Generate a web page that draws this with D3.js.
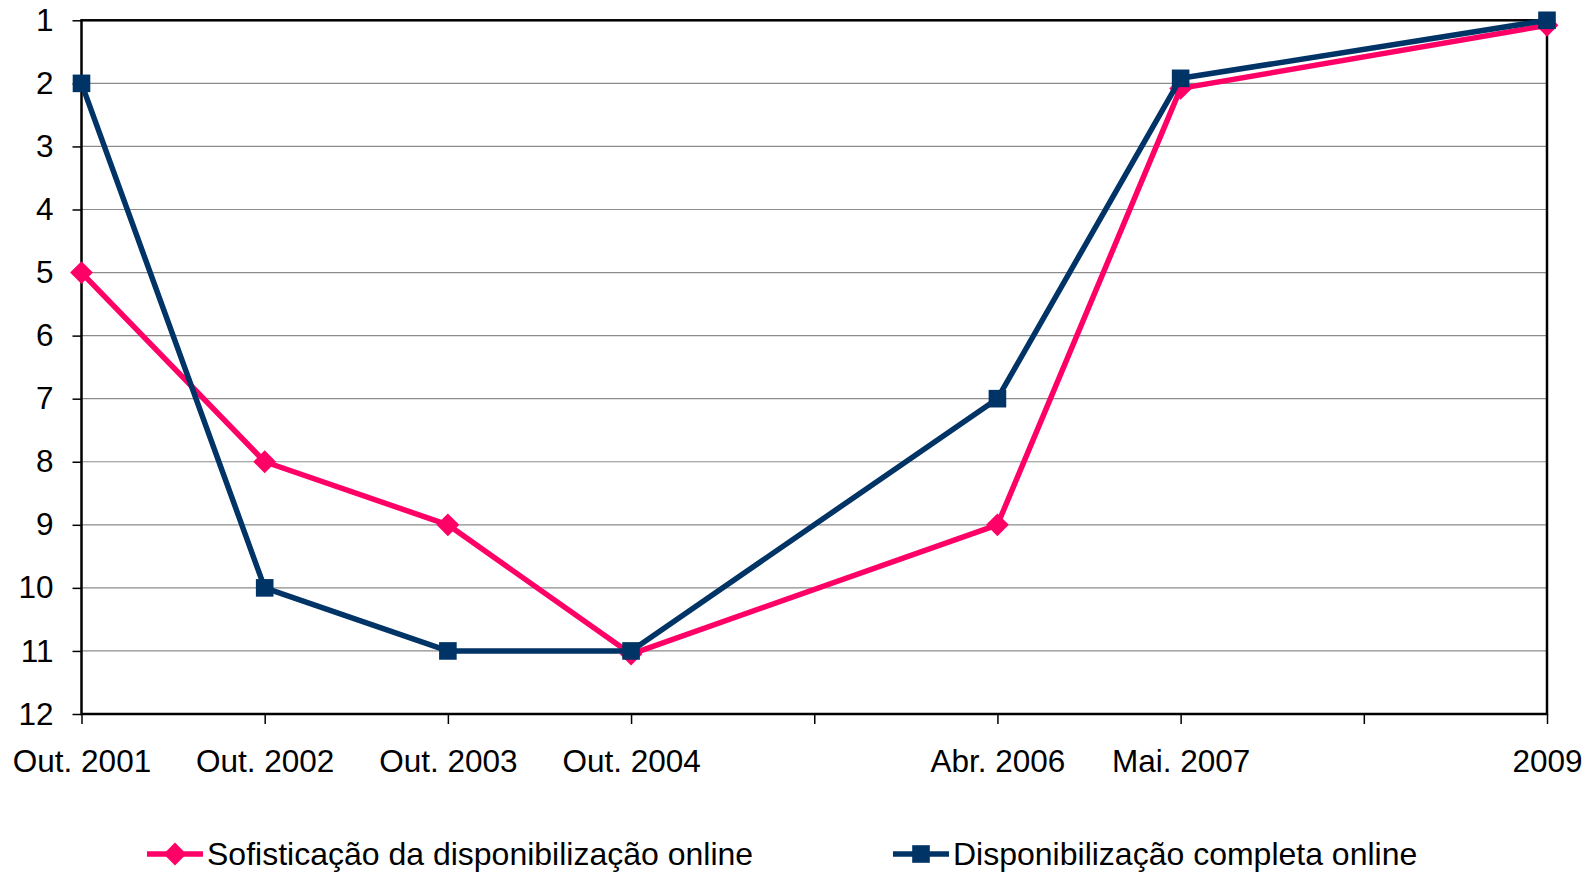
<!DOCTYPE html>
<html>
<head>
<meta charset="utf-8">
<script src="https://cdn.jsdelivr.net/npm/d3@7"></script>
<style>
  body { margin: 0; background: #fff; }
  svg { display: block; font-family: "Liberation Sans", Arial, sans-serif; }
</style>
</head>
<body>
<svg id="chart" width="1593" height="872"></svg>
<script>
let categories = ["Out. 2001", "Out. 2002", "Out. 2003", "Out. 2004", "", "Abr. 2006", "Mai. 2007", "", "2009"]
let sofisticacao = [5, 8, 9, 11.05, null, 9, 2.08, null, 1.08]
let completa = [2, 10, 11, 11, null, 7, 1.92, null, 1]
let yTicks = [1, 2, 3, 4, 5, 6, 7, 8, 9, 10, 11, 12]

let marginLeft = 81.5,
    marginRight = 46,
    marginTop = 20.3,
    marginBottom = 158;

let DIAMOND = 260, SQUARE = 310;

let series = [
    {name: "Sofisticação da disponibilização online", values: sofisticacao, color: "#FF0066", marker: "diamond"},
    {name: "Disponibilização completa online", values: completa, color: "#003366", marker: "square"},
]

function markerPath(s) {
    return d3.symbol(d3.symbolSquare, s.marker == 'square' ? SQUARE : DIAMOND)()
}
function markerRot(s) {
    return s.marker == 'square' ? '' : ' rotate(45)'
}

function draw(svg) {
    let width = +svg.getAttribute('width'),
        height = +svg.getAttribute('height'),
        canvas = d3.select(svg)

    let x = d3.scalePoint(d3.range(categories.length), [marginLeft, width - marginRight]),
        y = d3.scaleLinear([1, 12], [marginTop, height - marginBottom]);

    // grid
    canvas.append('g')
        .selectAll('line')
        .data(yTicks.slice(1, -1))
        .join('line')
        .attr('x1', x.range()[0])
        .attr('x2', x.range()[1])
        .attr('y1', d=>y(d))
        .attr('y2', d=>y(d))
        .attr('stroke', '#8c8c8c')
        .attr('stroke-width', 1.2)

    // axes
    let ya = canvas.append('g')
        .attr('transform', `translate(${marginLeft}, 0)`)
        .call(d3.axisLeft(y).tickValues(yTicks).tickFormat(d3.format('d')).tickSize(9).tickPadding(19))
    let xa = canvas.append('g')
        .attr('transform', `translate(0, ${y(12)})`)
        .call(d3.axisBottom(x).tickFormat(i=>categories[i]).tickSize(10).tickPadding(26))
    for (let a of [ya, xa]) {
        a.select('.domain').remove()
        a.selectAll('line').attr('stroke', '#000').attr('stroke-width', 1.5)
        a.selectAll('text').attr('font-size', 31.5).attr('fill', '#000')
            .attr('font-family', '"Liberation Sans", Arial, sans-serif')
    }

    // plot frame
    canvas.append('rect')
        .attr('x', x.range()[0])
        .attr('y', y(1))
        .attr('width', x.range()[1] - x.range()[0])
        .attr('height', y(12) - y(1))
        .attr('fill', 'none')
        .attr('stroke', '#000')
        .attr('stroke-width', 2.5)

    let line = d3.line()
        .x(d=>x(d.i))
        .y(d=>y(d.v))

    series.forEach(s => {
        let pts = s.values.map((v, i)=>({i, v})).filter(d=>d.v != null)
        let g = canvas.append('g')
        g.append('path')
            .attr('d', line(pts))
            .attr('fill', 'none')
            .attr('stroke', s.color)
            .attr('stroke-width', 5.5)
            .attr('stroke-linejoin', 'round')
        g.selectAll('path.m')
            .data(pts)
            .join('path')
            .attr('class', 'm')
            .attr('d', markerPath(s))
            .attr('transform', d=>`translate(${x(d.i)}, ${y(d.v)})` + markerRot(s))
            .attr('fill', s.color)
    })

    // legend
    let legendX = [147, 893], legendY = 854
    series.forEach((s, k) => {
        let g = canvas.append('g').attr('transform', `translate(${legendX[k]}, ${legendY})`)
        g.append('line')
            .attr('x1', 0).attr('x2', 56)
            .attr('stroke', s.color).attr('stroke-width', 5.5)
        g.append('path')
            .attr('d', markerPath(s))
            .attr('transform', `translate(28, 0)` + markerRot(s))
            .attr('fill', s.color)
        g.append('text')
            .attr('x', 60)
            .attr('y', 11)
            .attr('font-size', 32)
            .text(s.name)
    })
}

draw(document.getElementById('chart'))
</script>
</body>
</html>
